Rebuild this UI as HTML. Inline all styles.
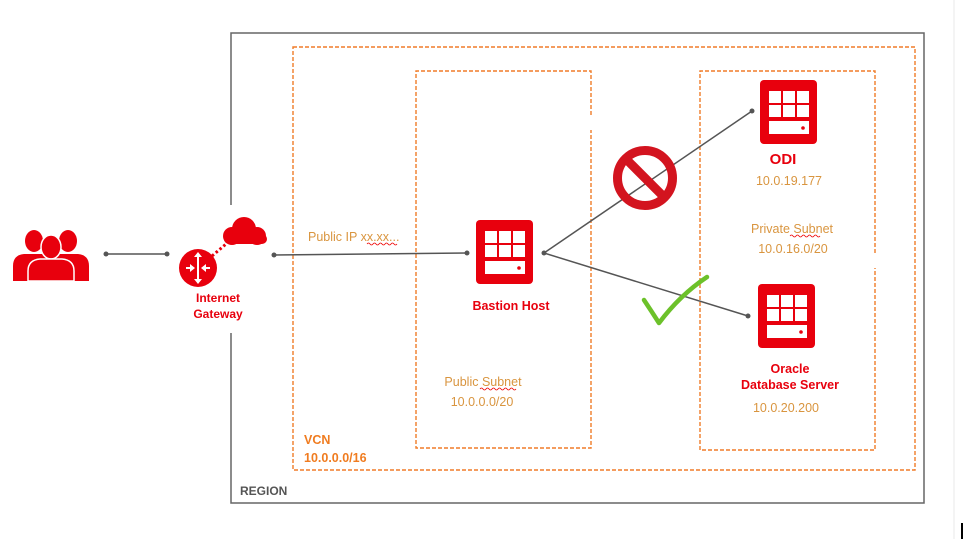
<!DOCTYPE html>
<html><head><meta charset="utf-8"><style>
html,body{margin:0;padding:0;background:#fff;}
svg{display:block;}
text{font-family:"Liberation Sans",sans-serif;}
</style></head><body>
<svg width="964" height="539" viewBox="0 0 964 539" xmlns="http://www.w3.org/2000/svg">
<defs>
<g id="srv">
<rect x="0" y="0" width="57" height="64" rx="4" fill="#e8000d"/>
<rect x="9" y="11" width="12" height="12" fill="#fff"/>
<rect x="23" y="11" width="12" height="12" fill="#fff"/>
<rect x="37" y="11" width="12" height="12" fill="#fff"/>
<rect x="9" y="25" width="12" height="12" fill="#fff"/>
<rect x="23" y="25" width="12" height="12" fill="#fff"/>
<rect x="37" y="25" width="12" height="12" fill="#fff"/>
<rect x="9" y="41" width="40" height="13" fill="#fff"/>
<circle cx="43" cy="48" r="1.8" fill="#e8000d"/>
</g>
</defs>
<line x1="954" y1="0" x2="954" y2="539" stroke="#e8e8e8" stroke-width="1"/>
<rect x="961" y="523" width="2" height="16" fill="#000"/>
<path d="M231 205 L231 33 L924 33 L924 503 L231 503 L231 333" fill="none" stroke="#666" stroke-width="1.5"/>
<text x="240" y="495" font-size="12" font-weight="bold" fill="#555">REGION</text>
<rect x="293" y="47" width="622" height="423" fill="none" stroke="#f07c28" stroke-width="1.4" stroke-dasharray="4,2"/>
<text x="304" y="444" font-size="12.5" font-weight="bold" fill="#f07c20">VCN</text>
<text x="304" y="462" font-size="12.5" font-weight="bold" fill="#f07c20">10.0.0.0/16</text>
<path d="M591 115 L591 71 L416 71 L416 448 L591 448 L591 130" fill="none" stroke="#f07c28" stroke-width="1.4" stroke-dasharray="4,2"/>
<path d="M875 253 L875 71 L700 71 L700 450 L875 450 L875 268" fill="none" stroke="#f07c28" stroke-width="1.4" stroke-dasharray="4,2"/>
<!-- users -->
<g fill="#e8000d">
<ellipse cx="34" cy="241" rx="9" ry="11"/>
<ellipse cx="68" cy="241" rx="9" ry="11"/>
<path d="M13 281 L13 266 Q13 255 24 254 L44 254 Q55 255 55 266 L55 281Z"/>
<path d="M47 281 L47 266 Q47 255 58 254 L78 254 Q89 255 89 266 L89 281Z"/>
<ellipse cx="51" cy="247" rx="10" ry="12" stroke="#fff" stroke-width="1.5"/>
<path d="M28 281 L28 271 Q28 260 40 259 L62 259 Q74 260 74 271 L74 281Z" stroke="#fff" stroke-width="1.5"/>
</g>
<line x1="106" y1="254" x2="167" y2="254" stroke="#555" stroke-width="1.5"/>
<circle cx="106" cy="254" r="2.5" fill="#555"/><circle cx="167" cy="254" r="2.5" fill="#555"/>
<circle cx="198" cy="268" r="19" fill="#e8000d"/>
<g stroke="#fff" stroke-width="2" fill="#fff">
<line x1="198" y1="255" x2="198" y2="281"/>
<line x1="186" y1="268" x2="193" y2="268"/>
<line x1="203" y1="268" x2="210" y2="268"/>
</g>
<g fill="#fff">
<path d="M198 252 L194 257 L202 257Z"/><path d="M198 284 L194 279 L202 279Z"/>
<path d="M195 268 L190 264 L190 272Z"/><path d="M201 268 L206 264 L206 272Z"/>
</g>
<line x1="212" y1="256" x2="226" y2="244" stroke="#e8000d" stroke-width="3" stroke-dasharray="2.5,2.5"/>
<g fill="#e8000d">
<circle cx="232" cy="236" r="9"/><circle cx="244" cy="229" r="12"/><circle cx="257" cy="236" r="9"/>
<rect x="224" y="234" width="43" height="10" rx="5"/>
</g>
<text x="218" y="302" font-size="12" font-weight="bold" fill="#e8000d" text-anchor="middle">Internet</text>
<text x="218" y="318" font-size="12" font-weight="bold" fill="#e8000d" text-anchor="middle">Gateway</text>
<line x1="274" y1="255" x2="467" y2="253" stroke="#555" stroke-width="1.5"/>
<circle cx="274" cy="255" r="2.5" fill="#555"/><circle cx="467" cy="253" r="2.5" fill="#555"/>
<text x="308" y="241" font-size="12.5" fill="#d9953f">Public IP xx.xx...</text>
<path d="M367 244 q1.5 -2 3 0 t3 0 t3 0 t3 0 t3 0 t3 0 t3 0 t3 0 t3 0 t3 0" fill="none" stroke="#e00" stroke-width="0.8"/>
<use href="#srv" x="476" y="220"/>
<use href="#srv" x="760" y="80"/>
<use href="#srv" x="758" y="284"/>
<text x="511" y="310" font-size="12.5" font-weight="bold" fill="#e8000d" text-anchor="middle">Bastion Host</text>
<text x="783" y="164" font-size="15" font-weight="bold" fill="#e8000d" text-anchor="middle">ODI</text>
<text x="789" y="185" font-size="12.5" fill="#d9953f" text-anchor="middle">10.0.19.177</text>
<text x="792" y="233" font-size="12.5" fill="#d9953f" text-anchor="middle">Private Subnet</text>
<path d="M790 236 q1.5 -2 3 0 t3 0 t3 0 t3 0 t3 0 t3 0 t3 0 t3 0 t3 0 t3 0" fill="none" stroke="#e00" stroke-width="0.8"/>
<text x="793" y="253" font-size="12.5" fill="#d9953f" text-anchor="middle">10.0.16.0/20</text>
<text x="790" y="373" font-size="12.5" font-weight="bold" fill="#e8000d" text-anchor="middle">Oracle</text>
<text x="790" y="389" font-size="12.5" font-weight="bold" fill="#e8000d" text-anchor="middle">Database Server</text>
<text x="786" y="412" font-size="12.5" fill="#d9953f" text-anchor="middle">10.0.20.200</text>
<text x="483" y="386" font-size="12.5" fill="#d9953f" text-anchor="middle">Public Subnet</text>
<path d="M480 389 q1.5 -2 3 0 t3 0 t3 0 t3 0 t3 0 t3 0 t3 0 t3 0 t3 0 t3 0 t3 0 t3 0" fill="none" stroke="#e00" stroke-width="0.8"/>
<text x="482" y="406" font-size="12.5" fill="#d9953f" text-anchor="middle">10.0.0.0/20</text>
<line x1="544" y1="253" x2="752" y2="111" stroke="#555" stroke-width="1.5"/>
<line x1="544" y1="253" x2="748" y2="316" stroke="#555" stroke-width="1.5"/>
<circle cx="544" cy="253" r="2.5" fill="#555"/><circle cx="752" cy="111" r="2.5" fill="#555"/><circle cx="748" cy="316" r="2.5" fill="#555"/>
<circle cx="645" cy="178" r="27.5" fill="none" stroke="#d3141f" stroke-width="9"/>
<line x1="627" y1="160" x2="663" y2="196" stroke="#d3141f" stroke-width="9"/>
<path d="M644 300 Q652 312 659 323 Q680 295 707 277" fill="none" stroke="#6cc12a" stroke-width="4.5" stroke-linecap="round" stroke-linejoin="round"/>
</svg>
</body></html>
